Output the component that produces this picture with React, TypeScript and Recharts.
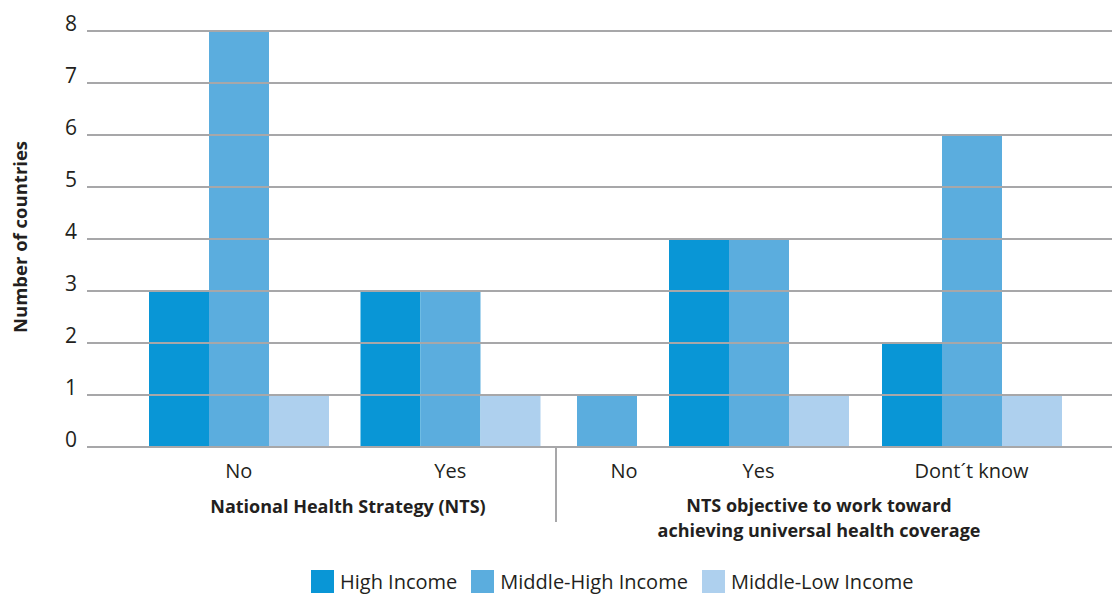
import { BarChart, Bar, XAxis, YAxis, ReferenceLine } from 'recharts';

// categories, read left to right
const ntsCategories = ['No', 'Yes'];
const uhcCategories = ['No', 'Yes', 'Dont´t know'];

// number of countries per income group
const highIncome = [3, 3, 0, 4, 2];
const middleHighIncome = [8, 3, 1, 4, 6];
const middleLowIncome = [1, 1, 0, 1, 1];

const yTicks = [0, 1, 2, 3, 4, 5, 6, 7, 8];

const series = [
  { key: 'high', name: 'High Income', color: '#0996d6' },
  { key: 'middleHigh', name: 'Middle-High Income', color: '#5badde' },
  { key: 'middleLow', name: 'Middle-Low Income', color: '#aed0ee' },
];

const rows = [...ntsCategories, ...uhcCategories].map((name, i) => ({
  name,
  high: highIncome[i],
  middleHigh: middleHighIncome[i],
  middleLow: middleLowIncome[i],
}));

const INK = '#231f20';
const GRID = '#a7a7a9';
const FONT = '"Open Sans", sans-serif';

interface PanelProps {
  data: typeof rows
  left: number
  width: number
  showY?: boolean
  padLeft?: number
  padRight?: number
  labelShift?: number
}

function Panel({ data, left, width, showY = false, padLeft = 0, padRight = 0, labelShift = 0 }: PanelProps) {
  return (
    <div style={{ position: 'absolute', left, top: 0 }}>
      <BarChart
        width={width}
        height={530}
        data={data}
        margin={{ top: 31, right: 0, bottom: 0, left: 0 }}
        barGap={0}
        barSize={60}
      >
        <XAxis
          dataKey="name"
          axisLine={false}
          tickLine={false}
          tickSize={0}
          tickMargin={17}
          height={83}
          interval={0}
          padding={{ left: padLeft, right: padRight }}
          tick={(p: any) => (
            <text x={p.x + labelShift} y={p.y} dy="0.71em" textAnchor="middle" fontSize={20} fill={INK} fontFamily={FONT}>
              {p.payload.value}
            </text>
          )}
        />
        <YAxis
          hide={!showY}
          width={87}
          domain={[0, 8]}
          ticks={yTicks}
          interval={0}
          axisLine={false}
          tickLine={false}
          tickSize={0}
          tickMargin={10}
          tick={(p: any) => (
            <text x={p.x} y={p.y} textAnchor="end" fontSize={21} fill={INK} fontFamily={FONT}>
              {p.payload.value}
            </text>
          )}
        />
        {series.map((s) => (
          <Bar key={s.key} dataKey={s.key} name={s.name} fill={s.color} isAnimationActive={false} />
        ))}
        {yTicks.map((v) => (
          <ReferenceLine key={v} y={v} stroke={GRID} strokeWidth={2} />
        ))}
      </BarChart>
    </div>
  );
}

export default function App() {
  return (
    <div
      style={{
        position: 'absolute',
        left: 0,
        top: 0,
        width: 1112,
        height: 594,
        overflow: 'hidden',
        background: '#fff',
        fontFamily: FONT,
        color: INK,
      }}
    >
      <Panel data={rows.slice(0, 2)} left={0} width={556} showY padLeft={46} />
      <Panel data={rows.slice(2, 3)} left={516} width={182} labelShift={17} />
      <Panel data={rows.slice(3, 5)} left={652} width={460} padRight={34} />

      <div
        style={{
          position: 'absolute',
          left: 19,
          top: 237,
          transform: 'translate(-50%, -50%) rotate(-90deg)',
          whiteSpace: 'nowrap',
          fontSize: 18.5,
          fontWeight: 700,
        }}
      >
        Number of countries
      </div>

      <div style={{ position: 'absolute', left: 555, top: 448, width: 2, height: 74, background: GRID }} />

      <div
        style={{
          position: 'absolute',
          left: 148,
          top: 494,
          width: 400,
          textAlign: 'center',
          fontSize: 18,
          fontWeight: 700,
          lineHeight: '25px',
        }}
      >
        National Health Strategy (NTS)
      </div>
      <div
        style={{
          position: 'absolute',
          left: 569,
          top: 493,
          width: 500,
          textAlign: 'center',
          fontSize: 18,
          fontWeight: 700,
          lineHeight: '25px',
        }}
      >
        NTS objective to work toward
        <br />
        achieving universal health coverage
      </div>

      <div style={{ position: 'absolute', left: 311, top: 570, display: 'flex' }}>
        {series.map((s) => (
          <div key={s.key} style={{ display: 'flex', marginRight: 14 }}>
            <div style={{ width: 23, height: 23, background: s.color, marginRight: 6 }} />
            <span style={{ fontSize: 20, lineHeight: '23px', whiteSpace: 'nowrap' }}>{s.name}</span>
          </div>
        ))}
      </div>
    </div>
  );
}
